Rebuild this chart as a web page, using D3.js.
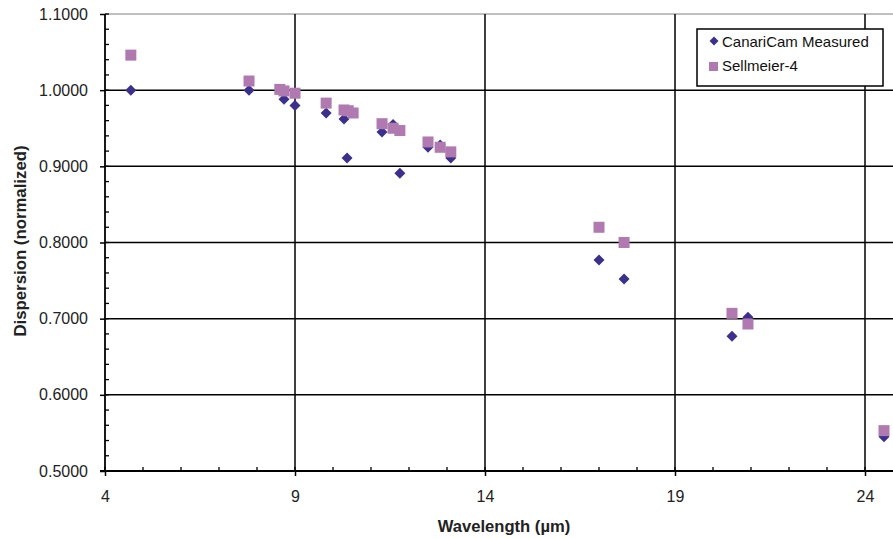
<!DOCTYPE html>
<html>
<head>
<meta charset="utf-8">
<script src="https://cdn.jsdelivr.net/npm/d3@7"></script>
<style>
  body { margin: 0; background: #fff; }
  svg { font-family: "Liberation Sans", Arial, sans-serif; }
</style>
</head>
<body>
<svg id="chart" width="893" height="539"></svg>
<script>
// wavelengths (um) and normalized dispersion
var measuredX = [4.68, 7.79, 8.71, 9.0, 9.82, 10.29, 10.37, 11.29, 11.58, 11.76, 12.5, 12.82, 13.1, 17.0, 17.66, 20.5, 20.92, 24.5];
var measuredY = [1.000, 1.000, 0.988, 0.980, 0.970, 0.962, 0.911, 0.945, 0.955, 0.891, 0.925, 0.928, 0.911, 0.777, 0.752, 0.677, 0.702, 0.545];

var sellX = [4.68, 7.79, 8.6, 8.71, 9.0, 9.82, 10.29, 10.4, 10.53, 11.29, 11.58, 11.76, 12.5, 12.82, 13.1, 17.0, 17.66, 20.5, 20.92, 24.5];
var sellY = [1.046, 1.012, 1.001, 0.999, 0.996, 0.983, 0.974, 0.973, 0.970, 0.956, 0.950, 0.947, 0.932, 0.925, 0.919, 0.820, 0.800, 0.707, 0.693, 0.553];

var xTicks = [4, 9, 14, 19, 24];
var yTicks = [0.5, 0.6, 0.7, 0.8, 0.9, 1.0, 1.1];

var svg = d3.select("#chart");

var plotL = 105, plotR = 903, plotT = 14, plotB = 471;

var x = d3.scaleLinear().domain([4, 25]).range([plotL, plotR]);
var y = d3.scaleLinear().domain([0.5, 1.1]).range([plotB, plotT]);

// gridlines
svg.append("g")
  .selectAll("line")
  .data(yTicks)
  .enter()
  .append("line")
  .attr("x1", plotL).attr("x2", plotR)
  .attr("y1", function(d) { return y(d); })
  .attr("y2", function(d) { return y(d); })
  .attr("stroke", function(d) { return d == 1.1 ? "#aaa" : "#000"; })
  .attr("stroke-width", 1.5);

svg.append("g")
  .selectAll("line")
  .data(xTicks.slice(1))
  .enter()
  .append("line")
  .attr("y1", plotT).attr("y2", plotB)
  .attr("x1", function(d) { return x(d); })
  .attr("x2", function(d) { return x(d); })
  .attr("stroke", "#000")
  .attr("stroke-width", 1.5);

// minor ticks
var yMinor = d3.range(0.5, 1.1001, 0.02);
svg.append("g")
  .selectAll("line")
  .data(yMinor)
  .enter()
  .append("line")
  .attr("x1", plotL).attr("x2", plotL + 4)
  .attr("y1", function(d) { return y(d); })
  .attr("y2", function(d) { return y(d); })
  .attr("stroke", "#000")
  .attr("stroke-width", 1.3);

var xMinor = d3.range(4, 25.001, 1);
svg.append("g")
  .selectAll("line")
  .data(xMinor)
  .enter()
  .append("line")
  .attr("y1", plotB).attr("y2", plotB - 4)
  .attr("x1", function(d) { return x(d); })
  .attr("x2", function(d) { return x(d); })
  .attr("stroke", "#000")
  .attr("stroke-width", 1.3);

// axes
var yAxis = d3.axisLeft(y).tickValues(yTicks).tickSize(5).tickPadding(12)
  .tickFormat(d3.format(".4f"));
var gy = svg.append("g")
  .attr("transform", "translate(" + plotL + ",0)")
  .call(yAxis);

var xAxis = d3.axisBottom(x).tickValues(xTicks).tickSize(5).tickPadding(15)
  .tickFormat(d3.format("d"));
var gx = svg.append("g")
  .attr("transform", "translate(0," + plotB + ")")
  .call(xAxis);

[gx, gy].forEach(function(g) {
  g.select(".domain").attr("stroke", "#000").attr("stroke-width", 1.8);
  g.selectAll(".tick line").attr("stroke", "#000").attr("stroke-width", 1.5);
  g.selectAll(".tick text")
    .style("font-size", "16px")
    .attr("fill", "#222");
});
gy.select(".domain").attr("d", "M0," + plotB + "V" + plotT);
gx.select(".domain").attr("d", "M" + (plotL - 5) + ",0H" + plotR);

// axis titles
svg.append("text")
  .attr("x", 504).attr("y", 532)
  .attr("text-anchor", "middle")
  .style("font-size", "16.6px")
  .style("font-weight", "bold")
  .attr("fill", "#222")
  .text("Wavelength (\u00b5m)");

svg.append("text")
  .attr("transform", "translate(26,241) rotate(-90)")
  .attr("text-anchor", "middle")
  .style("font-size", "16.8px")
  .style("font-weight", "bold")
  .attr("fill", "#222")
  .text("Dispersion (normalized)");

var blue = "#3b318d", pink = "#b07ab1";

var measured = measuredX.map(function(d, i) { return [d, measuredY[i]]; });
var sell = sellX.map(function(d, i) { return [d, sellY[i]]; });

// diamonds
svg.append("g")
  .selectAll("path")
  .data(measured)
  .enter()
  .append("path")
  .attr("d", "M0,-5.5L5.5,0L0,5.5L-5.5,0Z")
  .attr("transform", function(d) { return "translate(" + x(d[0]) + "," + y(d[1]) + ")"; })
  .attr("fill", blue);

// squares
svg.append("g")
  .selectAll("rect")
  .data(sell)
  .enter()
  .append("rect")
  .attr("x", function(d) { return x(d[0]) - 5.5; })
  .attr("y", function(d) { return y(d[1]) - 5.5; })
  .attr("width", 11)
  .attr("height", 11)
  .attr("fill", pink);

// legend
var lg = svg.append("g").attr("transform", "translate(697,29)");
lg.append("rect")
  .attr("width", 186).attr("height", 57)
  .attr("fill", "#fff")
  .attr("stroke", "#000")
  .attr("stroke-width", 1.5);
lg.append("path")
  .attr("d", "M0,-4.5L4.5,0L0,4.5L-4.5,0Z")
  .attr("transform", "translate(17,12)")
  .attr("fill", blue);
lg.append("rect")
  .attr("x", 12).attr("y", 33).attr("width", 9).attr("height", 9)
  .attr("fill", pink);
lg.append("text").attr("x", 25).attr("y", 18)
  .style("font-size", "15px").attr("fill", "#111")
  .text("CanariCam Measured");
lg.append("text").attr("x", 25).attr("y", 42)
  .style("font-size", "15px").attr("fill", "#111")
  .text("Sellmeier-4");
</script>
</body>
</html>
